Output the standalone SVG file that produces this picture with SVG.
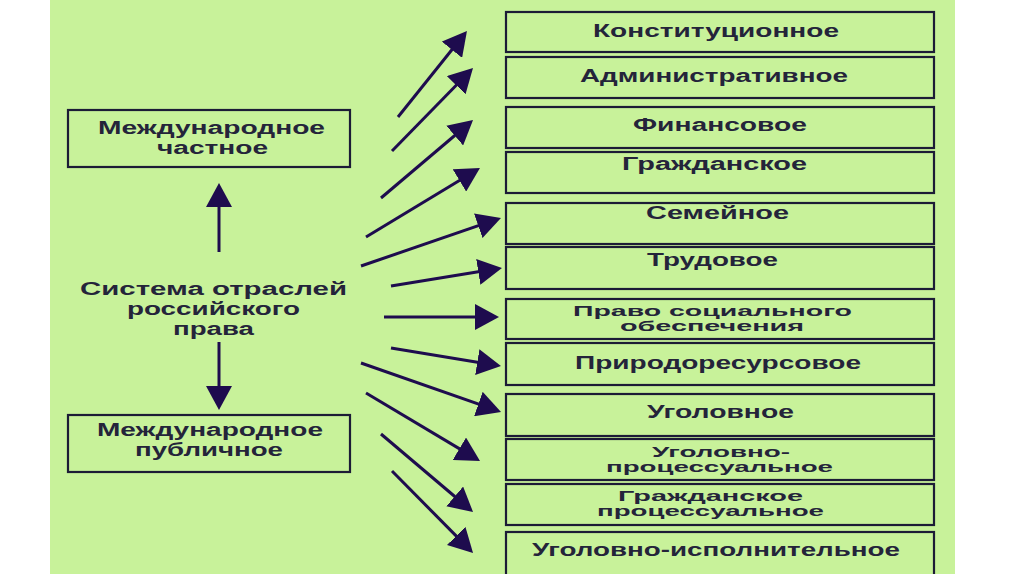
<svg xmlns="http://www.w3.org/2000/svg" width="1024" height="574" viewBox="0 0 1024 574">
<style>
.bg{fill:#c8f29a}
.box{fill:none;stroke:#1c1c36;stroke-width:2.2}
.t{font-family:"Liberation Sans",Arial,sans-serif;font-size:18px;fill:#24243a;font-weight:bold}
.s{font-size:15px}
.ar{stroke:#1e0c4e;stroke-width:3;fill:none;marker-end:url(#ah)}
</style>
<defs>
<marker id="ah" markerUnits="userSpaceOnUse" viewBox="0 0 24 26" markerWidth="24" markerHeight="26" refX="14" refY="13" orient="auto">
<path d="M0,0 L24,13 L0,26 Z" fill="#1e0c4e"/>
</marker>
</defs>
<rect x="0" y="0" width="1024" height="574" fill="#ffffff"/>
<rect class="bg" x="50" y="0" width="905" height="574"/>

<g id="intl-private">
<rect class="box" x="68" y="110" width="282" height="57"/>
<text class="t" x="98" y="134" textLength="227" lengthAdjust="spacingAndGlyphs">Международное</text>
<text class="t" x="157" y="154" textLength="111" lengthAdjust="spacingAndGlyphs">частное</text>
</g>
<g id="system">
<text class="t" x="80" y="295" textLength="267" lengthAdjust="spacingAndGlyphs">Система  отраслей</text>
<text class="t" x="127" y="315" textLength="173" lengthAdjust="spacingAndGlyphs">российского</text>
<text class="t" x="173" y="335" textLength="81" lengthAdjust="spacingAndGlyphs">права</text>
</g>
<g id="intl-public">
<rect class="box" x="68" y="415" width="282" height="57"/>
<text class="t" x="97" y="436" textLength="226" lengthAdjust="spacingAndGlyphs">Международное</text>
<text class="t" x="135" y="456" textLength="148" lengthAdjust="spacingAndGlyphs">публичное</text>
</g>

<g id="b1"><rect class="box" x="506" y="12" width="428" height="40"/><text class="t" x="593" y="37" textLength="246" lengthAdjust="spacingAndGlyphs">Конституционное</text></g>
<g id="b2"><rect class="box" x="506" y="57" width="428" height="41"/><text class="t" x="580" y="82" textLength="268" lengthAdjust="spacingAndGlyphs">Административное</text></g>
<g id="b3"><rect class="box" x="506" y="107" width="428" height="41"/><text class="t" x="633" y="131" textLength="174" lengthAdjust="spacingAndGlyphs">Финансовое</text></g>
<g id="b4"><rect class="box" x="506" y="152" width="428" height="41"/><text class="t" x="622" y="170" textLength="185" lengthAdjust="spacingAndGlyphs">Гражданское</text></g>
<g id="b5"><rect class="box" x="506" y="203" width="428" height="41"/><text class="t" x="646" y="219" textLength="143" lengthAdjust="spacingAndGlyphs">Семейное</text></g>
<g id="b6"><rect class="box" x="506" y="247" width="428" height="42"/><text class="t" x="647" y="266" textLength="131" lengthAdjust="spacingAndGlyphs">Трудовое</text></g>
<g id="b7"><rect class="box" x="506" y="299" width="428" height="40"/><text class="t s" x="573" y="316" textLength="279" lengthAdjust="spacingAndGlyphs">Право  социального</text><text class="t s" x="620" y="331" textLength="184" lengthAdjust="spacingAndGlyphs">обеспечения</text></g>
<g id="b8"><rect class="box" x="506" y="343" width="428" height="42"/><text class="t" x="575" y="369" textLength="286" lengthAdjust="spacingAndGlyphs">Природоресурсовое</text></g>
<g id="b9"><rect class="box" x="506" y="394" width="428" height="42"/><text class="t" x="647" y="418" textLength="147" lengthAdjust="spacingAndGlyphs">Уголовное</text></g>
<g id="b10"><rect class="box" x="506" y="439" width="428" height="41"/><text class="t s" x="652" y="457" textLength="138" lengthAdjust="spacingAndGlyphs">Уголовно-</text><text class="t s" x="606" y="472" textLength="227" lengthAdjust="spacingAndGlyphs">процессуальное</text></g>
<g id="b11"><rect class="box" x="506" y="484" width="428" height="41"/><text class="t s" x="618" y="501" textLength="185" lengthAdjust="spacingAndGlyphs">Гражданское</text><text class="t s" x="597" y="516" textLength="227" lengthAdjust="spacingAndGlyphs">процессуальное</text></g>
<g id="b12"><rect class="box" x="506" y="532" width="428" height="44"/><text class="t" x="532" y="556" textLength="368" lengthAdjust="spacingAndGlyphs">Уголовно-исполнительное</text></g>

<g id="connectors">
<line class="ar" x1="219" y1="252" x2="219" y2="193"/>
<line class="ar" x1="219" y1="342" x2="219" y2="400"/>
<line class="ar" x1="398" y1="117" x2="460.7" y2="38.8"/>
<line class="ar" x1="392" y1="151" x2="466.0" y2="75.2"/>
<line class="ar" x1="381" y1="198" x2="465.4" y2="126.5"/>
<line class="ar" x1="366" y1="237" x2="471.4" y2="173.2"/>
<line class="ar" x1="361" y1="266" x2="491.5" y2="221.2"/>
<line class="ar" x1="391" y1="286" x2="492.1" y2="269.6"/>
<line class="ar" x1="384" y1="317" x2="489" y2="317"/>
<line class="ar" x1="391" y1="348" x2="491.1" y2="364.4"/>
<line class="ar" x1="361" y1="363" x2="491.6" y2="408.7"/>
<line class="ar" x1="366" y1="393" x2="471.4" y2="455.9"/>
<line class="ar" x1="381" y1="434" x2="465.4" y2="505.5"/>
<line class="ar" x1="392" y1="471" x2="466.0" y2="545.9"/>
</g>
</svg>
